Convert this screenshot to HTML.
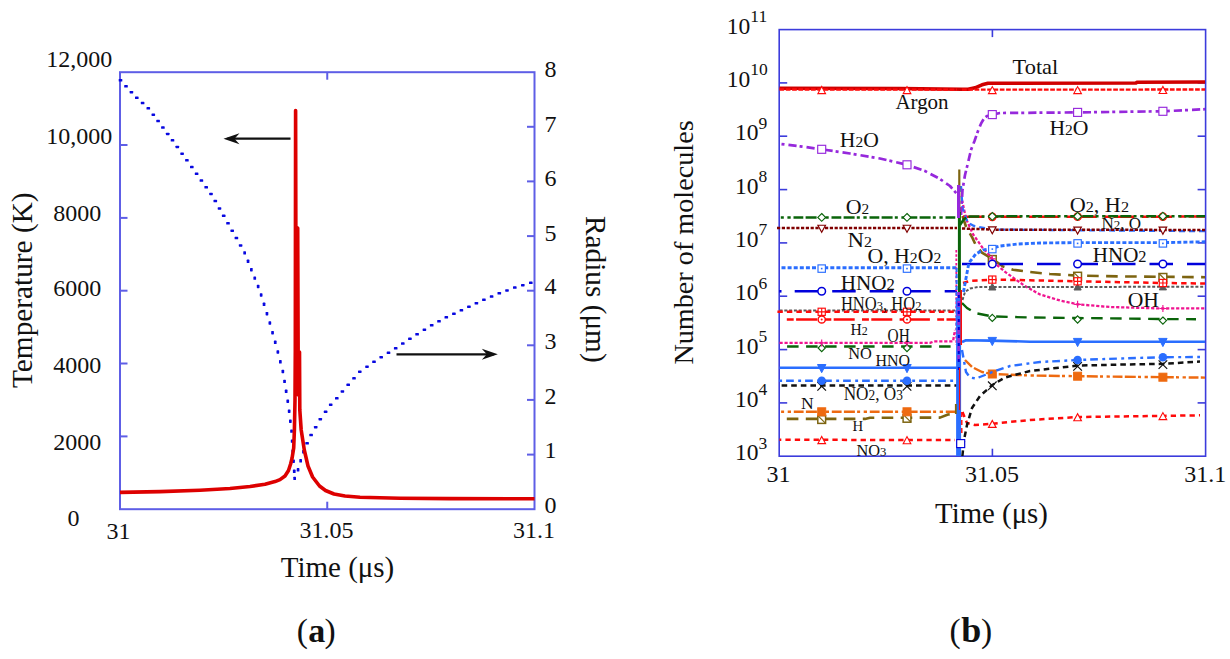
<!DOCTYPE html>
<html><head><meta charset="utf-8"><style>
html,body{margin:0;padding:0;background:#fff;}
body{width:1230px;height:659px;overflow:hidden;}
svg{display:block;}
text{font-family:"Liberation Serif", serif;fill:#111;}
</style></head><body>
<svg width="1230" height="659" viewBox="0 0 1230 659">
<rect x="120.0" y="72.2" width="414.5" height="437.0" fill="none" stroke="#5e5ee6" stroke-width="2"/>
<line x1="120.0" y1="436.4" x2="127.5" y2="436.4" stroke="#5e5ee6" stroke-width="2"/>
<line x1="120.0" y1="363.5" x2="127.5" y2="363.5" stroke="#5e5ee6" stroke-width="2"/>
<line x1="120.0" y1="290.7" x2="127.5" y2="290.7" stroke="#5e5ee6" stroke-width="2"/>
<line x1="120.0" y1="217.9" x2="127.5" y2="217.9" stroke="#5e5ee6" stroke-width="2"/>
<line x1="120.0" y1="145.0" x2="127.5" y2="145.0" stroke="#5e5ee6" stroke-width="2"/>
<line x1="527.0" y1="454.6" x2="534.5" y2="454.6" stroke="#5e5ee6" stroke-width="2"/>
<line x1="527.0" y1="399.9" x2="534.5" y2="399.9" stroke="#5e5ee6" stroke-width="2"/>
<line x1="527.0" y1="345.3" x2="534.5" y2="345.3" stroke="#5e5ee6" stroke-width="2"/>
<line x1="527.0" y1="290.7" x2="534.5" y2="290.7" stroke="#5e5ee6" stroke-width="2"/>
<line x1="527.0" y1="236.1" x2="534.5" y2="236.1" stroke="#5e5ee6" stroke-width="2"/>
<line x1="527.0" y1="181.4" x2="534.5" y2="181.4" stroke="#5e5ee6" stroke-width="2"/>
<line x1="527.0" y1="126.8" x2="534.5" y2="126.8" stroke="#5e5ee6" stroke-width="2"/>
<line x1="327.25" y1="72.2" x2="327.25" y2="79.7" stroke="#5e5ee6" stroke-width="2"/>
<line x1="327.25" y1="501.7" x2="327.25" y2="509.2" stroke="#5e5ee6" stroke-width="2"/>
<rect x="118.7" y="79.0" width="3.6" height="2.5" rx="0.6" fill="#0808e0"/>
<rect x="124.2" y="85.0" width="3.6" height="2.5" rx="0.6" fill="#0808e0"/>
<rect x="129.6" y="90.9" width="3.6" height="2.5" rx="0.6" fill="#0808e0"/>
<rect x="135.0" y="96.5" width="3.6" height="2.5" rx="0.6" fill="#0808e0"/>
<rect x="140.8" y="101.8" width="3.6" height="2.5" rx="0.6" fill="#0808e0"/>
<rect x="146.5" y="107.1" width="3.6" height="2.5" rx="0.6" fill="#0808e0"/>
<rect x="151.5" y="113.4" width="3.6" height="2.5" rx="0.6" fill="#0808e0"/>
<rect x="156.3" y="119.8" width="3.6" height="2.5" rx="0.6" fill="#0808e0"/>
<rect x="161.1" y="126.3" width="3.6" height="2.5" rx="0.6" fill="#0808e0"/>
<rect x="165.9" y="132.7" width="3.6" height="2.5" rx="0.6" fill="#0808e0"/>
<rect x="170.7" y="139.1" width="3.6" height="2.5" rx="0.6" fill="#0808e0"/>
<rect x="175.5" y="145.7" width="3.6" height="2.5" rx="0.6" fill="#0808e0"/>
<rect x="180.3" y="152.4" width="3.6" height="2.5" rx="0.6" fill="#0808e0"/>
<rect x="185.1" y="159.1" width="3.6" height="2.5" rx="0.6" fill="#0808e0"/>
<rect x="190.0" y="165.8" width="3.6" height="2.5" rx="0.6" fill="#0808e0"/>
<rect x="194.8" y="172.5" width="3.6" height="2.5" rx="0.6" fill="#0808e0"/>
<rect x="199.6" y="179.3" width="3.6" height="2.5" rx="0.6" fill="#0808e0"/>
<rect x="204.4" y="186.0" width="3.6" height="2.5" rx="0.6" fill="#0808e0"/>
<rect x="209.2" y="192.7" width="3.6" height="2.5" rx="0.6" fill="#0808e0"/>
<rect x="213.5" y="199.8" width="3.6" height="2.5" rx="0.6" fill="#0808e0"/>
<rect x="217.7" y="207.2" width="3.6" height="2.5" rx="0.6" fill="#0808e0"/>
<rect x="221.9" y="214.6" width="3.6" height="2.5" rx="0.6" fill="#0808e0"/>
<rect x="226.2" y="222.0" width="3.6" height="2.5" rx="0.6" fill="#0808e0"/>
<rect x="230.4" y="229.4" width="3.6" height="2.5" rx="0.6" fill="#0808e0"/>
<rect x="234.6" y="236.8" width="3.6" height="2.5" rx="0.6" fill="#0808e0"/>
<rect x="238.8" y="244.2" width="3.6" height="2.5" rx="0.6" fill="#0808e0"/>
<rect x="243.3" y="251.2" width="2.7" height="3.4" rx="0.6" fill="#0808e0"/>
<rect x="246.7" y="259.6" width="2.7" height="3.4" rx="0.6" fill="#0808e0"/>
<rect x="250.0" y="268.0" width="2.7" height="3.4" rx="0.6" fill="#0808e0"/>
<rect x="253.4" y="276.4" width="2.7" height="3.4" rx="0.6" fill="#0808e0"/>
<rect x="256.8" y="284.8" width="2.7" height="3.4" rx="0.6" fill="#0808e0"/>
<rect x="259.8" y="293.3" width="2.7" height="3.4" rx="0.6" fill="#0808e0"/>
<rect x="262.7" y="302.6" width="2.7" height="3.4" rx="0.6" fill="#0808e0"/>
<rect x="265.6" y="312.0" width="2.7" height="3.4" rx="0.6" fill="#0808e0"/>
<rect x="268.5" y="321.3" width="2.7" height="3.4" rx="0.6" fill="#0808e0"/>
<rect x="271.2" y="331.0" width="2.7" height="3.4" rx="0.6" fill="#0808e0"/>
<rect x="273.9" y="340.6" width="2.7" height="3.4" rx="0.6" fill="#0808e0"/>
<rect x="276.5" y="350.3" width="2.7" height="3.4" rx="0.6" fill="#0808e0"/>
<rect x="279.0" y="360.1" width="2.7" height="3.4" rx="0.6" fill="#0808e0"/>
<rect x="281.5" y="369.8" width="2.7" height="3.4" rx="0.6" fill="#0808e0"/>
<rect x="283.2" y="379.7" width="2.7" height="3.4" rx="0.6" fill="#0808e0"/>
<rect x="284.8" y="389.6" width="2.7" height="3.4" rx="0.6" fill="#0808e0"/>
<rect x="286.4" y="399.5" width="2.7" height="3.4" rx="0.6" fill="#0808e0"/>
<rect x="287.8" y="409.5" width="2.7" height="3.4" rx="0.6" fill="#0808e0"/>
<rect x="289.0" y="419.5" width="2.7" height="3.4" rx="0.6" fill="#0808e0"/>
<rect x="290.2" y="429.4" width="2.7" height="3.4" rx="0.6" fill="#0808e0"/>
<rect x="290.8" y="439.4" width="2.7" height="3.4" rx="0.6" fill="#0808e0"/>
<rect x="291.4" y="449.5" width="2.7" height="3.4" rx="0.6" fill="#0808e0"/>
<rect x="292.2" y="459.5" width="2.7" height="3.4" rx="0.6" fill="#0808e0"/>
<rect x="292.9" y="469.6" width="2.7" height="3.4" rx="0.6" fill="#0808e0"/>
<rect x="293.3" y="476.7" width="2.7" height="3.4" rx="0.6" fill="#0808e0"/>
<rect x="296.7" y="468.1" width="2.7" height="3.4" rx="0.6" fill="#0808e0"/>
<rect x="299.3" y="459.1" width="2.7" height="3.4" rx="0.6" fill="#0808e0"/>
<rect x="302.1" y="450.1" width="2.7" height="3.4" rx="0.6" fill="#0808e0"/>
<rect x="305.3" y="442.1" width="3.6" height="2.5" rx="0.6" fill="#0808e0"/>
<rect x="309.3" y="433.8" width="3.6" height="2.5" rx="0.6" fill="#0808e0"/>
<rect x="313.9" y="425.9" width="3.6" height="2.5" rx="0.6" fill="#0808e0"/>
<rect x="318.5" y="417.9" width="3.6" height="2.5" rx="0.6" fill="#0808e0"/>
<rect x="323.8" y="410.6" width="3.6" height="2.5" rx="0.6" fill="#0808e0"/>
<rect x="328.9" y="403.4" width="3.6" height="2.5" rx="0.6" fill="#0808e0"/>
<rect x="335.0" y="397.1" width="3.6" height="2.5" rx="0.6" fill="#0808e0"/>
<rect x="340.6" y="390.2" width="3.6" height="2.5" rx="0.6" fill="#0808e0"/>
<rect x="346.4" y="383.6" width="3.6" height="2.5" rx="0.6" fill="#0808e0"/>
<rect x="352.2" y="377.1" width="3.6" height="2.5" rx="0.6" fill="#0808e0"/>
<rect x="358.0" y="370.4" width="3.6" height="2.5" rx="0.6" fill="#0808e0"/>
<rect x="365.2" y="365.4" width="3.6" height="2.5" rx="0.6" fill="#0808e0"/>
<rect x="372.2" y="360.5" width="3.6" height="2.5" rx="0.6" fill="#0808e0"/>
<rect x="379.4" y="355.9" width="3.6" height="2.5" rx="0.6" fill="#0808e0"/>
<rect x="386.7" y="351.5" width="3.6" height="2.5" rx="0.6" fill="#0808e0"/>
<rect x="393.9" y="347.1" width="3.6" height="2.5" rx="0.6" fill="#0808e0"/>
<rect x="401.0" y="342.3" width="3.6" height="2.5" rx="0.6" fill="#0808e0"/>
<rect x="408.1" y="337.6" width="3.6" height="2.5" rx="0.6" fill="#0808e0"/>
<rect x="415.3" y="333.0" width="3.6" height="2.5" rx="0.6" fill="#0808e0"/>
<rect x="422.6" y="328.4" width="3.6" height="2.5" rx="0.6" fill="#0808e0"/>
<rect x="429.9" y="324.0" width="3.6" height="2.5" rx="0.6" fill="#0808e0"/>
<rect x="437.2" y="320.0" width="3.6" height="2.5" rx="0.6" fill="#0808e0"/>
<rect x="444.5" y="316.1" width="3.6" height="2.5" rx="0.6" fill="#0808e0"/>
<rect x="452.1" y="312.6" width="3.6" height="2.5" rx="0.6" fill="#0808e0"/>
<rect x="459.6" y="309.1" width="3.6" height="2.5" rx="0.6" fill="#0808e0"/>
<rect x="467.1" y="305.6" width="3.6" height="2.5" rx="0.6" fill="#0808e0"/>
<rect x="474.6" y="302.0" width="3.6" height="2.5" rx="0.6" fill="#0808e0"/>
<rect x="482.1" y="298.5" width="3.6" height="2.5" rx="0.6" fill="#0808e0"/>
<rect x="489.8" y="295.3" width="3.6" height="2.5" rx="0.6" fill="#0808e0"/>
<rect x="497.5" y="292.0" width="3.6" height="2.5" rx="0.6" fill="#0808e0"/>
<rect x="505.2" y="289.2" width="3.6" height="2.5" rx="0.6" fill="#0808e0"/>
<rect x="513.0" y="286.3" width="3.6" height="2.5" rx="0.6" fill="#0808e0"/>
<rect x="521.0" y="283.9" width="3.6" height="2.5" rx="0.6" fill="#0808e0"/>
<rect x="529.0" y="281.5" width="3.6" height="2.5" rx="0.6" fill="#0808e0"/>
<polyline points="120.0,492.4 160.0,491.6 200.0,490.2 230.0,488.5 250.0,486.5 265.0,484.3 275.0,481.6 280.0,479.6 285.0,476.0 288.5,470.5 290.6,464.0 292.1,458.0 293.7,448.0 294.4,430.0 295.0,400.0 295.3,350.0 295.6,110.6 296.0,300.0 296.5,350.0 297.7,228.0 298.3,395.0 299.5,352.0 299.8,410.0 301.2,430.0 304.3,450.0 308.0,466.0 312.6,477.0 319.5,486.0 325.5,490.5 334.0,494.0 345.0,496.0 360.0,497.2 400.0,498.2 450.0,498.6 534.5,498.8" fill="none" stroke="#dd0000" stroke-width="3.6" stroke-linejoin="round"/>
<line x1="290.5" y1="138.7" x2="227.5" y2="138.7" stroke="#111" stroke-width="2.2"/>
<path d="M223.5,138.7 L239.5,133.2 L234.5,138.7 L239.5,144.2 Z" fill="#111"/>
<line x1="396.5" y1="354.3" x2="493.8" y2="354.3" stroke="#111" stroke-width="2.2"/>
<path d="M497.8,354.3 L481.8,348.8 L486.8,354.3 L481.8,359.8 Z" fill="#111"/>
<text x="112.30000000000001" y="67.3" font-size="24" text-anchor="end" >12,000</text>
<text x="112.30000000000001" y="143.8" font-size="24" text-anchor="end" >10,000</text>
<text x="101.3" y="220.6" font-size="24" text-anchor="end" >8000</text>
<text x="101.3" y="295.6" font-size="24" text-anchor="end" >6000</text>
<text x="101.3" y="372.8" font-size="24" text-anchor="end" >4000</text>
<text x="101.3" y="450.2" font-size="24" text-anchor="end" >2000</text>
<text x="67.6" y="526" font-size="24" text-anchor="start" >0</text>
<text x="106.5" y="539" font-size="24" text-anchor="start" >31</text>
<text x="299.4" y="538.2" font-size="24" text-anchor="start" >31.05</text>
<text x="512.9" y="537.7" font-size="24" text-anchor="start" >31.1</text>
<text x="544.5" y="513" font-size="24" text-anchor="start" >0</text>
<text x="544.5" y="458" font-size="24" text-anchor="start" >1</text>
<text x="544.5" y="403.5" font-size="24" text-anchor="start" >2</text>
<text x="544.5" y="349" font-size="24" text-anchor="start" >3</text>
<text x="544.5" y="294.2" font-size="24" text-anchor="start" >4</text>
<text x="544.5" y="240.8" font-size="24" text-anchor="start" >5</text>
<text x="544.5" y="186" font-size="24" text-anchor="start" >6</text>
<text x="544.5" y="131.5" font-size="24" text-anchor="start" >7</text>
<text x="544.5" y="76.5" font-size="24" text-anchor="start" >8</text>
<text transform="translate(31.9,290.2) rotate(-90)" font-size="29.3" text-anchor="middle">Temperature (K)</text>
<text transform="translate(585.9,289.3) rotate(90)" font-size="29.3" text-anchor="middle">Radius (μm)</text>
<text x="337.5" y="576.9" font-size="29" text-anchor="middle" >Time (μs)</text>
<text y="642.2" font-size="33.5"><tspan x="296.8">(</tspan><tspan x="308.2" font-weight="bold" font-size="34">a</tspan><tspan x="324.6">)</tspan></text>
<rect x="779.2" y="29.6" width="426.39999999999986" height="426.59999999999997" fill="none" stroke="#3c3cdc" stroke-width="1.6"/>
<line x1="779.2" y1="402.9" x2="787.2" y2="402.9" stroke="#3c3cdc" stroke-width="1.6"/>
<line x1="1197.6" y1="402.9" x2="1205.6" y2="402.9" stroke="#3c3cdc" stroke-width="1.6"/>
<line x1="779.2" y1="349.6" x2="787.2" y2="349.6" stroke="#3c3cdc" stroke-width="1.6"/>
<line x1="1197.6" y1="349.6" x2="1205.6" y2="349.6" stroke="#3c3cdc" stroke-width="1.6"/>
<line x1="779.2" y1="296.2" x2="787.2" y2="296.2" stroke="#3c3cdc" stroke-width="1.6"/>
<line x1="1197.6" y1="296.2" x2="1205.6" y2="296.2" stroke="#3c3cdc" stroke-width="1.6"/>
<line x1="779.2" y1="242.9" x2="787.2" y2="242.9" stroke="#3c3cdc" stroke-width="1.6"/>
<line x1="1197.6" y1="242.9" x2="1205.6" y2="242.9" stroke="#3c3cdc" stroke-width="1.6"/>
<line x1="779.2" y1="189.6" x2="787.2" y2="189.6" stroke="#3c3cdc" stroke-width="1.6"/>
<line x1="1197.6" y1="189.6" x2="1205.6" y2="189.6" stroke="#3c3cdc" stroke-width="1.6"/>
<line x1="779.2" y1="136.2" x2="787.2" y2="136.2" stroke="#3c3cdc" stroke-width="1.6"/>
<line x1="1197.6" y1="136.2" x2="1205.6" y2="136.2" stroke="#3c3cdc" stroke-width="1.6"/>
<line x1="779.2" y1="82.9" x2="787.2" y2="82.9" stroke="#3c3cdc" stroke-width="1.6"/>
<line x1="1197.6" y1="82.9" x2="1205.6" y2="82.9" stroke="#3c3cdc" stroke-width="1.6"/>
<line x1="992.400000000003" y1="29.6" x2="992.400000000003" y2="37.1" stroke="#3c3cdc" stroke-width="1.6"/>
<line x1="992.400000000003" y1="448.7" x2="992.400000000003" y2="456.2" stroke="#3c3cdc" stroke-width="1.6"/>
<text x="734.9" y="460.4" font-size="23.5">10<tspan dy="-11.8" font-size="17.5">3</tspan></text>
<text x="734.9" y="407.1" font-size="23.5">10<tspan dy="-11.8" font-size="17.5">4</tspan></text>
<text x="734.9" y="353.8" font-size="23.5">10<tspan dy="-11.8" font-size="17.5">5</tspan></text>
<text x="734.9" y="300.4" font-size="23.5">10<tspan dy="-11.8" font-size="17.5">6</tspan></text>
<text x="734.9" y="247.1" font-size="23.5">10<tspan dy="-11.8" font-size="17.5">7</tspan></text>
<text x="734.9" y="193.8" font-size="23.5">10<tspan dy="-11.8" font-size="17.5">8</tspan></text>
<text x="734.9" y="140.4" font-size="23.5">10<tspan dy="-11.8" font-size="17.5">9</tspan></text>
<text x="726.8" y="87.1" font-size="23.5">10<tspan dy="-11.8" font-size="17.5">10</tspan></text>
<text x="726.8" y="33.8" font-size="23.5">10<tspan dy="-11.8" font-size="17.5">11</tspan></text>
<text x="766.5" y="481.6" font-size="24" text-anchor="start" >31</text>
<text x="965" y="481.8" font-size="24" text-anchor="start" >31.05</text>
<text x="1184.2" y="481.8" font-size="24" text-anchor="start" >31.1</text>
<text x="991.5" y="522.9" font-size="28.8" text-anchor="middle" >Time (μs)</text>
<text transform="translate(693.2,242.5) rotate(-90)" font-size="28.2" text-anchor="middle">Number of molecules</text>
<text y="642.2" font-size="33.5"><tspan x="949.6">(</tspan><tspan x="961.2" font-weight="bold" font-size="36">b</tspan><tspan x="981.1">)</tspan></text>
<polyline points="779.5,439.8 955.0,440.0" fill="none" stroke="#ff0a0a" stroke-width="2.5" stroke-dasharray="5.3 4.1" stroke-dashoffset="3.5" stroke-linecap="butt" stroke-linejoin="round" />
<polyline points="962.5,412.0 967.0,423.0 975.0,425.0 992.3,423.7 1030.0,420.0 1077.6,417.0 1163.0,415.9 1200.0,415.3" fill="none" stroke="#ff0a0a" stroke-width="2.5" stroke-dasharray="5.3 4.1" stroke-linecap="butt" stroke-linejoin="round" />
<polygon points="817.9,443.6 825.5,443.6 821.7,436.5" fill="#fff" stroke="#ff0a0a" stroke-width="1.15"/>
<polygon points="903.2,443.7 910.8,443.7 907.0,436.6" fill="#fff" stroke="#ff0a0a" stroke-width="1.15"/>
<polygon points="988.5,427.4 996.1,427.4 992.3,420.4" fill="#fff" stroke="#ff0a0a" stroke-width="1.15"/>
<polygon points="1073.8,420.7 1081.4,420.7 1077.6,413.7" fill="#fff" stroke="#ff0a0a" stroke-width="1.15"/>
<polygon points="1159.1,419.6 1166.7,419.6 1162.9,412.6" fill="#fff" stroke="#ff0a0a" stroke-width="1.15"/>
<polyline points="786.8,418.9 865.0,418.9 870.0,417.8 940.0,417.6 948.0,414.5 956.0,414.0" fill="none" stroke="#7d6410" stroke-width="2.6" stroke-dasharray="11.6 7.4" stroke-linecap="butt" stroke-linejoin="round" />
<polyline points="962.5,216.0 966.2,227.3 972.3,237.6 975.8,245.1 981.9,252.6 992.2,258.8 1003.0,266.5 1013.0,269.7 1030.0,272.0 1050.0,274.0 1077.6,275.6 1120.0,276.4 1163.0,276.8 1205.0,277.2" fill="none" stroke="#7d6410" stroke-width="2.6" stroke-dasharray="11.6 7.4" stroke-linecap="butt" stroke-linejoin="round" />
<rect x="817.8" y="415.6" width="7.8" height="7.8" fill="#fff" stroke="#7d6410" stroke-width="1.5"/>
<path d="M817.8,415.6L825.6,423.4" stroke="#7d6410" stroke-width="1.2"/>
<rect x="903.1" y="414.4" width="7.8" height="7.8" fill="#fff" stroke="#7d6410" stroke-width="1.5"/>
<path d="M903.1,414.4L910.9,422.2" stroke="#7d6410" stroke-width="1.2"/>
<rect x="988.4" y="255.6" width="7.8" height="7.8" fill="#fff" stroke="#7d6410" stroke-width="1.5"/>
<path d="M988.4,255.6L996.2,263.4" stroke="#7d6410" stroke-width="1.2"/>
<rect x="1073.7" y="272.3" width="7.8" height="7.8" fill="#fff" stroke="#7d6410" stroke-width="1.5"/>
<path d="M1073.7,272.3L1081.5,280.1" stroke="#7d6410" stroke-width="1.2"/>
<rect x="1159.0" y="273.5" width="7.8" height="7.8" fill="#fff" stroke="#7d6410" stroke-width="1.5"/>
<path d="M1159.0,273.5L1166.8,281.3" stroke="#7d6410" stroke-width="1.2"/>
<polyline points="781.1,411.8 957.0,411.8" fill="none" stroke="#ee6a10" stroke-width="2.4" stroke-dasharray="9.8 2.3 11 2.2 3 3.6 3.3 2.8" stroke-dashoffset="25.3" stroke-linecap="butt" stroke-linejoin="round" />
<polyline points="965.0,360.0 972.0,367.0 982.0,372.0 992.3,374.0 1030.0,375.5 1077.6,376.2 1163.0,377.2 1205.0,377.6" fill="none" stroke="#ee6a10" stroke-width="2.4" stroke-dasharray="9.8 2.3 11 2.2 3 3.6 3.3 2.8" stroke-linecap="butt" stroke-linejoin="round" />
<rect x="817.7" y="407.8" width="8.0" height="8.0" fill="#ee6a10" stroke="#ee6a10" stroke-width="1"/>
<rect x="903.0" y="407.8" width="8.0" height="8.0" fill="#ee6a10" stroke="#ee6a10" stroke-width="1"/>
<rect x="988.3" y="370.0" width="8.0" height="8.0" fill="#ee6a10" stroke="#ee6a10" stroke-width="1"/>
<rect x="1073.6" y="372.2" width="8.0" height="8.0" fill="#ee6a10" stroke="#ee6a10" stroke-width="1"/>
<rect x="1158.9" y="373.2" width="8.0" height="8.0" fill="#ee6a10" stroke="#ee6a10" stroke-width="1"/>
<polyline points="779.5,385.5 957.0,385.5" fill="none" stroke="#111111" stroke-width="2.5" stroke-dasharray="5.6 4" stroke-dashoffset="7.5" stroke-linecap="butt" stroke-linejoin="round" />
<polyline points="962.4,456.0 964.0,440.0 967.0,425.0 972.0,408.0 980.0,396.0 992.3,385.0 1005.0,377.5 1030.0,371.0 1077.6,365.6 1120.0,364.6 1163.0,363.8 1200.0,361.6" fill="none" stroke="#111111" stroke-width="2.5" stroke-dasharray="5.6 4" stroke-linecap="butt" stroke-linejoin="round" />
<path d="M817.4,382.0L826.0,390.6M826.0,382.0L817.4,390.6" stroke="#111111" stroke-width="1.2"/>
<path d="M902.7,382.0L911.3,390.6M911.3,382.0L902.7,390.6" stroke="#111111" stroke-width="1.2"/>
<path d="M988.0,381.5L996.6,390.1M996.6,381.5L988.0,390.1" stroke="#111111" stroke-width="1.2"/>
<path d="M1073.3,362.1L1081.9,370.7M1081.9,362.1L1073.3,370.7" stroke="#111111" stroke-width="1.2"/>
<path d="M1158.6,360.3L1167.2,368.9M1167.2,360.3L1158.6,368.9" stroke="#111111" stroke-width="1.2"/>
<polyline points="779.2,380.8 957.0,380.8" fill="none" stroke="#2a6eff" stroke-width="2.4" stroke-dasharray="7.7 4.4 2.9 4" stroke-dashoffset="12.1" stroke-linecap="butt" stroke-linejoin="round" />
<polyline points="962.0,350.0 966.0,372.0 970.0,377.5 976.0,378.5 985.0,375.0 992.3,372.0 1010.0,366.0 1040.0,362.0 1077.6,360.0 1120.0,358.5 1163.0,357.2 1200.0,357.0" fill="none" stroke="#2a6eff" stroke-width="2.4" stroke-dasharray="7.7 4.4 2.9 4" stroke-linecap="butt" stroke-linejoin="round" />
<circle cx="821.7" cy="380.8" r="4.3" fill="#2a6eff"/>
<circle cx="907.0" cy="380.8" r="4.3" fill="#2a6eff"/>
<circle cx="1077.6" cy="360.0" r="4.3" fill="#2a6eff"/>
<circle cx="1162.9" cy="357.2" r="4.3" fill="#2a6eff"/>
<polyline points="779.5,367.8 957.0,367.8" fill="none" stroke="#2a6eff" stroke-width="2.6" stroke-linecap="butt" stroke-linejoin="round" />
<polyline points="962.0,342.0 966.0,340.2 990.0,340.6 1030.0,341.7 1205.0,341.7" fill="none" stroke="#2a6eff" stroke-width="2.6" stroke-linecap="butt" stroke-linejoin="round" />
<polygon points="817.5,364.5 825.9,364.5 821.7,372.7" fill="#2a6eff" stroke="#2a6eff" stroke-width="1"/>
<polygon points="902.8,364.5 911.2,364.5 907.0,372.7" fill="#2a6eff" stroke="#2a6eff" stroke-width="1"/>
<polygon points="988.1,337.4 996.5,337.4 992.3,345.6" fill="#2a6eff" stroke="#2a6eff" stroke-width="1"/>
<polygon points="1073.4,338.4 1081.8,338.4 1077.6,346.6" fill="#2a6eff" stroke="#2a6eff" stroke-width="1"/>
<polygon points="1158.7,338.4 1167.1,338.4 1162.9,346.6" fill="#2a6eff" stroke="#2a6eff" stroke-width="1"/>
<polyline points="787.1,346.5 957.0,346.5" fill="none" stroke="#0a640a" stroke-width="2.4" stroke-dasharray="11.5 7.5" stroke-linecap="butt" stroke-linejoin="round" />
<polyline points="962.0,303.0 967.0,308.0 975.0,313.0 992.3,316.4 1030.0,317.5 1077.6,318.0 1163.0,319.1 1196.0,319.2" fill="none" stroke="#0a640a" stroke-width="2.4" stroke-dasharray="11.5 7.5" stroke-linecap="butt" stroke-linejoin="round" />
<polygon points="821.7,344.4 825.3,348.0 821.7,351.6 818.1,348.0" fill="#fff" stroke="#0a640a" stroke-width="1.15"/>
<polygon points="907.0,344.4 910.6,348.0 907.0,351.6 903.4,348.0" fill="#fff" stroke="#0a640a" stroke-width="1.15"/>
<polygon points="992.3,314.3 995.9,317.9 992.3,321.5 988.7,317.9" fill="#fff" stroke="#0a640a" stroke-width="1.15"/>
<polygon points="1077.6,315.9 1081.2,319.5 1077.6,323.1 1074.0,319.5" fill="#fff" stroke="#0a640a" stroke-width="1.15"/>
<polygon points="1162.9,317.0 1166.5,320.6 1162.9,324.2 1159.3,320.6" fill="#fff" stroke="#0a640a" stroke-width="1.15"/>
<polyline points="779.5,342.9 930.0,342.9 934.0,341.4 953.0,341.4 955.0,330.0" fill="none" stroke="#f01490" stroke-width="2.3" stroke-dasharray="3.2 1.8" stroke-linecap="butt" stroke-linejoin="round" />
<polyline points="962.0,200.0 966.2,219.1 973.0,234.2 982.6,247.8 990.1,256.0 997.6,265.6 1005.8,272.4 1015.4,279.3 1025.0,286.0 1040.0,294.5 1060.0,300.5 1077.6,304.3 1110.0,307.0 1163.0,308.5 1205.0,308.3" fill="none" stroke="#f01490" stroke-width="2.3" stroke-dasharray="3.2 1.8" stroke-linecap="butt" stroke-linejoin="round" />
<path d="M818.2,342.9H825.2M821.7,339.4V346.4" stroke="#f01490" stroke-width="1.15"/>
<path d="M903.5,342.9H910.5M907.0,339.4V346.4" stroke="#f01490" stroke-width="1.15"/>
<path d="M988.8,258.8H995.8M992.3,255.3V262.3" stroke="#f01490" stroke-width="1.15"/>
<path d="M1074.1,304.3H1081.1M1077.6,300.8V307.8" stroke="#f01490" stroke-width="1.15"/>
<path d="M1159.4,308.5H1166.4M1162.9,305.0V312.0" stroke="#f01490" stroke-width="1.15"/>
<polyline points="786.8,319.5 957.0,319.5" fill="none" stroke="#ff0a0a" stroke-width="2.5" stroke-dasharray="21 7.3 6.9 2.4" stroke-dashoffset="28.3" stroke-linecap="butt" stroke-linejoin="round" />
<polyline points="963.0,216.8 1205.0,216.6" fill="none" stroke="#ff0a0a" stroke-width="2.5" stroke-dasharray="21 7.3 6.9 2.4" stroke-linecap="butt" stroke-linejoin="round" />
<circle cx="821.7" cy="319.5" r="3.6" fill="#fff" stroke="#ff0a0a" stroke-width="1.5"/>
<circle cx="821.7" cy="319.5" r="1" fill="#ff0a0a"/>
<circle cx="907.0" cy="319.5" r="3.6" fill="#fff" stroke="#ff0a0a" stroke-width="1.5"/>
<circle cx="907.0" cy="319.5" r="1" fill="#ff0a0a"/>
<circle cx="992.3" cy="216.8" r="3.6" fill="#fff" stroke="#ff0a0a" stroke-width="1.5"/>
<circle cx="992.3" cy="216.8" r="1" fill="#ff0a0a"/>
<circle cx="1077.6" cy="216.7" r="3.6" fill="#fff" stroke="#ff0a0a" stroke-width="1.5"/>
<circle cx="1077.6" cy="216.7" r="1" fill="#ff0a0a"/>
<circle cx="1162.9" cy="216.6" r="3.6" fill="#fff" stroke="#ff0a0a" stroke-width="1.5"/>
<circle cx="1162.9" cy="216.6" r="1" fill="#ff0a0a"/>
<polyline points="779.5,310.4 957.0,310.4" fill="none" stroke="#5a5a5a" stroke-width="2.0" stroke-dasharray="3 1.8" stroke-linecap="butt" stroke-linejoin="round" />
<polyline points="962.5,300.0 965.0,292.0 970.0,288.5 978.0,287.0 1205.0,286.8" fill="none" stroke="#5a5a5a" stroke-width="2.0" stroke-dasharray="3 1.8" stroke-linecap="butt" stroke-linejoin="round" />
<polygon points="988.7,290.0 995.9,290.0 992.3,283.4" fill="#5a5a5a" stroke="#5a5a5a" stroke-width="1"/>
<polygon points="1074.0,290.0 1081.2,290.0 1077.6,283.3" fill="#5a5a5a" stroke="#5a5a5a" stroke-width="1"/>
<polygon points="1159.3,289.9 1166.5,289.9 1162.9,283.2" fill="#5a5a5a" stroke="#5a5a5a" stroke-width="1"/>
<polyline points="777.4,311.8 957.0,311.8" fill="none" stroke="#ff0a0a" stroke-width="2.5" stroke-dasharray="5.4 4.1" stroke-linecap="butt" stroke-linejoin="round" />
<polyline points="963.0,283.0 970.0,281.0 992.3,279.6 1030.0,280.3 1077.6,281.3 1163.0,283.0 1205.0,283.5" fill="none" stroke="#ff0a0a" stroke-width="2.5" stroke-dasharray="5.4 4.1" stroke-linecap="butt" stroke-linejoin="round" />
<rect x="818.1" y="308.2" width="7.2" height="7.2" fill="#fff" stroke="#ff0a0a" stroke-width="1.15"/>
<path d="M818.1,311.8H825.3M821.7,308.2V315.4" stroke="#ff0a0a" stroke-width="1.15"/>
<rect x="903.4" y="308.2" width="7.2" height="7.2" fill="#fff" stroke="#ff0a0a" stroke-width="1.15"/>
<path d="M903.4,311.8H910.6M907.0,308.2V315.4" stroke="#ff0a0a" stroke-width="1.15"/>
<rect x="988.7" y="276.0" width="7.2" height="7.2" fill="#fff" stroke="#ff0a0a" stroke-width="1.15"/>
<path d="M988.7,279.6H995.9M992.3,276.0V283.2" stroke="#ff0a0a" stroke-width="1.15"/>
<rect x="1074.0" y="277.7" width="7.2" height="7.2" fill="#fff" stroke="#ff0a0a" stroke-width="1.15"/>
<path d="M1074.0,281.3H1081.2M1077.6,277.7V284.9" stroke="#ff0a0a" stroke-width="1.15"/>
<rect x="1159.3" y="279.4" width="7.2" height="7.2" fill="#fff" stroke="#ff0a0a" stroke-width="1.15"/>
<path d="M1159.3,283.0H1166.5M1162.9,279.4V286.6" stroke="#ff0a0a" stroke-width="1.15"/>
<polyline points="779.2,291.3 781.5,291.3" fill="none" stroke="#0000dc" stroke-width="2.6" stroke-linecap="butt" stroke-linejoin="round" />
<polyline points="780.7,291.3 957.0,291.3" fill="none" stroke="#0000dc" stroke-width="2.6" stroke-dasharray="23.5 14" stroke-dashoffset="23.5" stroke-linecap="butt" stroke-linejoin="round" />
<polyline points="962.0,264.0 1205.0,264.0" fill="none" stroke="#0000dc" stroke-width="2.6" stroke-dasharray="23.5 14" stroke-linecap="butt" stroke-linejoin="round" />
<circle cx="821.7" cy="291.3" r="3.8" fill="#fff" stroke="#0000dc" stroke-width="1.5"/>
<circle cx="907.0" cy="291.3" r="3.8" fill="#fff" stroke="#0000dc" stroke-width="1.5"/>
<circle cx="992.3" cy="264.0" r="3.8" fill="#fff" stroke="#0000dc" stroke-width="1.5"/>
<circle cx="1077.6" cy="264.0" r="3.8" fill="#fff" stroke="#0000dc" stroke-width="1.5"/>
<circle cx="1162.9" cy="264.0" r="3.8" fill="#fff" stroke="#0000dc" stroke-width="1.5"/>
<polyline points="779.5,267.8 957.0,267.8" fill="none" stroke="#2a6eff" stroke-width="2.9" stroke-dasharray="4 2.1" stroke-dashoffset="-2" stroke-linecap="butt" stroke-linejoin="round" />
<polyline points="963.5,292.0 964.8,284.7 968.9,262.9 975.8,254.0 983.3,249.9 992.3,248.3 1000.0,246.0 1018.0,244.0 1040.0,243.0 1077.6,242.6 1163.0,242.6 1205.0,241.8" fill="none" stroke="#2a6eff" stroke-width="2.9" stroke-dasharray="4 2.1" stroke-linecap="butt" stroke-linejoin="round" />
<rect x="818.0" y="264.9" width="7.4" height="7.4" fill="#fff" stroke="#2a6eff" stroke-width="1.15"/>
<rect x="820.9" y="267.8" width="1.6" height="1.6" fill="#2a6eff"/>
<rect x="903.3" y="264.9" width="7.4" height="7.4" fill="#fff" stroke="#2a6eff" stroke-width="1.15"/>
<rect x="906.2" y="267.8" width="1.6" height="1.6" fill="#2a6eff"/>
<rect x="988.6" y="245.4" width="7.4" height="7.4" fill="#fff" stroke="#2a6eff" stroke-width="1.15"/>
<rect x="991.5" y="248.3" width="1.6" height="1.6" fill="#2a6eff"/>
<rect x="1073.9" y="239.7" width="7.4" height="7.4" fill="#fff" stroke="#2a6eff" stroke-width="1.15"/>
<rect x="1076.8" y="242.6" width="1.6" height="1.6" fill="#2a6eff"/>
<rect x="1159.2" y="239.7" width="7.4" height="7.4" fill="#fff" stroke="#2a6eff" stroke-width="1.15"/>
<rect x="1162.1" y="242.6" width="1.6" height="1.6" fill="#2a6eff"/>
<polyline points="961.0,186.0 962.5,208.0 967.6,222.5 974.0,226.0 985.0,228.2 992.0,229.0 1000.0,229.6 1100.0,230.4 1205.0,231.2" fill="none" stroke="#2a6eff" stroke-width="2.3" stroke-dasharray="6 4" stroke-linecap="butt" stroke-linejoin="round" />
<polyline points="777.0,227.9 957.0,227.9" fill="none" stroke="#800000" stroke-width="2.5" stroke-dasharray="3.2 1.6" stroke-linecap="butt" stroke-linejoin="round" />
<polyline points="962.0,228.5 1000.0,229.8 1205.0,229.9" fill="none" stroke="#800000" stroke-width="2.5" stroke-dasharray="3.2 1.6" stroke-linecap="butt" stroke-linejoin="round" />
<polygon points="817.9,225.2 825.5,225.2 821.7,232.2" fill="#fff" stroke="#800000" stroke-width="1.15"/>
<polygon points="903.2,225.2 910.8,225.2 907.0,232.2" fill="#fff" stroke="#800000" stroke-width="1.15"/>
<polygon points="988.5,226.8 996.1,226.8 992.3,233.8" fill="#fff" stroke="#800000" stroke-width="1.15"/>
<polygon points="1073.8,227.1 1081.4,227.1 1077.6,234.1" fill="#fff" stroke="#800000" stroke-width="1.15"/>
<polygon points="1159.1,227.1 1166.7,227.1 1162.9,234.2" fill="#fff" stroke="#800000" stroke-width="1.15"/>
<polyline points="780.8,217.4 957.0,217.4" fill="none" stroke="#0a640a" stroke-width="2.5" stroke-dasharray="9.8 2.3 11 2.2 3 3.6 3.3 2.8" stroke-dashoffset="25.3" stroke-linecap="butt" stroke-linejoin="round" />
<polyline points="960.0,225.0 964.0,219.0 970.0,216.4 1205.0,216.2" fill="none" stroke="#0a640a" stroke-width="2.5" stroke-dasharray="9.8 2.3 11 2.2 3 3.6 3.3 2.8" stroke-linecap="butt" stroke-linejoin="round" />
<polygon points="821.7,213.5 825.6,217.4 821.7,221.3 817.8,217.4" fill="#fff" stroke="#0a640a" stroke-width="1.15"/>
<polygon points="907.0,213.5 910.9,217.4 907.0,221.3 903.1,217.4" fill="#fff" stroke="#0a640a" stroke-width="1.15"/>
<polygon points="992.3,212.5 996.2,216.4 992.3,220.3 988.4,216.4" fill="#fff" stroke="#0a640a" stroke-width="1.15"/>
<polygon points="1077.6,212.4 1081.5,216.3 1077.6,220.2 1073.7,216.3" fill="#fff" stroke="#0a640a" stroke-width="1.15"/>
<polygon points="1162.9,212.3 1166.8,216.2 1162.9,220.1 1159.0,216.2" fill="#fff" stroke="#0a640a" stroke-width="1.15"/>
<polyline points="780.8,144.0 800.0,146.3 821.7,149.3 850.0,153.5 880.0,158.5 907.0,164.8 925.0,171.0 940.0,179.0 950.0,186.0 957.0,194.0" fill="none" stroke="#9628dc" stroke-width="2.7" stroke-dasharray="8.2 3 3 4" stroke-dashoffset="10.5" stroke-linecap="butt" stroke-linejoin="round" />
<polyline points="961.0,215.0 962.5,190.0 965.0,175.0 968.2,162.0 971.0,150.0 974.6,140.7 978.0,131.0 981.0,123.7 984.0,118.5 987.0,116.0 992.3,114.6 1000.0,113.0 1077.6,112.4 1163.0,111.3 1205.0,109.2" fill="none" stroke="#9628dc" stroke-width="2.7" stroke-dasharray="8.2 3 3 4" stroke-linecap="butt" stroke-linejoin="round" />
<rect x="817.7" y="145.3" width="8.0" height="8.0" fill="#fff" stroke="#9628dc" stroke-width="1.15"/>
<rect x="903.0" y="160.8" width="8.0" height="8.0" fill="#fff" stroke="#9628dc" stroke-width="1.15"/>
<rect x="988.3" y="110.6" width="8.0" height="8.0" fill="#fff" stroke="#9628dc" stroke-width="1.15"/>
<rect x="1073.6" y="108.4" width="8.0" height="8.0" fill="#fff" stroke="#9628dc" stroke-width="1.15"/>
<rect x="1158.9" y="107.3" width="8.0" height="8.0" fill="#fff" stroke="#9628dc" stroke-width="1.15"/>
<line x1="956.3" y1="250" x2="956.3" y2="345" stroke="#f01490" stroke-width="1.8" stroke-dasharray="2.5 1.8"/>
<line x1="956.6" y1="268" x2="956.6" y2="330" stroke="#2a6eff" stroke-width="2" stroke-dasharray="4 2"/>
<line x1="959.4" y1="212" x2="959.4" y2="300" stroke="#0a640a" stroke-width="3"/>
<line x1="959.3" y1="169.5" x2="959.3" y2="212" stroke="#7d6410" stroke-width="2.2"/>
<line x1="958.6" y1="298" x2="958.6" y2="456" stroke="#2a6eff" stroke-width="5"/>
<line x1="958.5" y1="185" x2="958.5" y2="218" stroke="#9628dc" stroke-width="3"/>
<line x1="958.6" y1="292" x2="958.6" y2="362" stroke="#9628dc" stroke-width="2.6" stroke-dasharray="6 3"/>
<line x1="958.8" y1="295" x2="958.8" y2="375" stroke="#0000dc" stroke-width="2" stroke-dasharray="3 5"/>
<line x1="961.2" y1="290" x2="961.2" y2="345" stroke="#ff0a0a" stroke-width="1.6"/>
<line x1="959.6" y1="368" x2="959.6" y2="410" stroke="#ff0a0a" stroke-width="1.3"/>
<line x1="961.8" y1="412" x2="961.8" y2="436" stroke="#ff0a0a" stroke-width="1.4" stroke-dasharray="5 3"/>
<line x1="955.8" y1="404" x2="955.8" y2="414" stroke="#7d6410" stroke-width="1.8"/>
<rect x="956.7" y="439.6" width="8.0" height="8.0" fill="#fff" stroke="#0000dc" stroke-width="1.15"/>
<polyline points="779.5,88.3 900.0,88.6 962.0,89.3 968.0,89.2 975.0,87.8 982.0,84.8 988.0,83.2 1136.0,83.0 1137.0,82.3 1205.0,82.1" fill="none" stroke="#d00000" stroke-width="3.5" stroke-linecap="butt" stroke-linejoin="round" />
<polyline points="779.5,89.5 957.0,89.6" fill="none" stroke="#ff0a0a" stroke-width="2.3" stroke-dasharray="4.7 1.6" stroke-linecap="butt" stroke-linejoin="round" />
<polyline points="962.0,89.6 1205.0,89.5" fill="none" stroke="#ff0a0a" stroke-width="2.3" stroke-dasharray="4.7 1.6" stroke-linecap="butt" stroke-linejoin="round" />
<polygon points="817.9,93.6 825.5,93.6 821.7,86.5" fill="#fff" stroke="#ff0a0a" stroke-width="1.15"/>
<polygon points="903.2,93.6 910.8,93.6 907.0,86.6" fill="#fff" stroke="#ff0a0a" stroke-width="1.15"/>
<polygon points="988.5,93.6 996.1,93.6 992.3,86.6" fill="#fff" stroke="#ff0a0a" stroke-width="1.15"/>
<polygon points="1073.8,93.6 1081.4,93.6 1077.6,86.6" fill="#fff" stroke="#ff0a0a" stroke-width="1.15"/>
<polygon points="1159.1,93.5 1166.7,93.5 1162.9,86.5" fill="#fff" stroke="#ff0a0a" stroke-width="1.15"/>
<text x="1012.6" y="73.9" font-size="21.7" textLength="45.7" lengthAdjust="spacingAndGlyphs">Total</text>
<text x="895.4" y="108.5" font-size="20.7" textLength="53.2" lengthAdjust="spacingAndGlyphs">Argon</text>
<text x="839.8" y="147.1" font-size="21" textLength="39.0" lengthAdjust="spacingAndGlyphs">H<tspan font-size="15">2</tspan>O</text>
<text x="1049.4" y="134.5" font-size="21" textLength="39.1" lengthAdjust="spacingAndGlyphs">H<tspan font-size="15">2</tspan>O</text>
<text x="845.8" y="213.8" font-size="20" textLength="23.5" lengthAdjust="spacingAndGlyphs">O<tspan font-size="14">2</tspan></text>
<text x="847.5" y="246.8" font-size="21.5" textLength="24.4" lengthAdjust="spacingAndGlyphs">N<tspan font-size="15">2</tspan></text>
<text x="867.4" y="263.3" font-size="20.8" textLength="73.9" lengthAdjust="spacingAndGlyphs">O, H<tspan font-size="15">2</tspan>O<tspan font-size="15">2</tspan></text>
<text x="840.8" y="289.7" font-size="21.2" textLength="54.2" lengthAdjust="spacingAndGlyphs">HNO<tspan font-size="16.8">2</tspan></text>
<text x="840.9" y="309.9" font-size="17.9" textLength="80.6" lengthAdjust="spacingAndGlyphs">HNO<tspan font-size="13.5">3</tspan>, HO<tspan font-size="13.5">2</tspan></text>
<text x="850.5" y="334.8" font-size="17" textLength="17.2" lengthAdjust="spacingAndGlyphs">H<tspan font-size="13">2</tspan></text>
<text x="887.6" y="341.8" font-size="18" textLength="22.2" lengthAdjust="spacingAndGlyphs">OH</text>
<text x="848.2" y="359.1" font-size="16.8" textLength="23.6" lengthAdjust="spacingAndGlyphs">NO</text>
<text x="875.5" y="366.4" font-size="16.5" textLength="34.6" lengthAdjust="spacingAndGlyphs">HNO</text>
<text x="843.7" y="400.1" font-size="18" textLength="59.2" lengthAdjust="spacingAndGlyphs">NO<tspan font-size="14">2</tspan>, O<tspan font-size="14">3</tspan></text>
<text x="800.9" y="408.9" font-size="17" textLength="12.7" lengthAdjust="spacingAndGlyphs">N</text>
<text x="852.4" y="430.5" font-size="15.5" textLength="10.7" lengthAdjust="spacingAndGlyphs">H</text>
<text x="856.4" y="455.7" font-size="16.8" textLength="30.0" lengthAdjust="spacingAndGlyphs">NO<tspan font-size="13">3</tspan></text>
<text x="1069.7" y="211.8" font-size="20.5" textLength="59.3" lengthAdjust="spacingAndGlyphs">O<tspan font-size="15">2</tspan>, H<tspan font-size="15">2</tspan></text>
<text x="1101.4" y="228.8" font-size="17" textLength="39.6" lengthAdjust="spacingAndGlyphs">N<tspan font-size="13">2</tspan>, O</text>
<text x="1092.8" y="262.2" font-size="20.5" textLength="53.8" lengthAdjust="spacingAndGlyphs">HNO<tspan font-size="16">2</tspan></text>
<text x="1127.7" y="306.5" font-size="21" textLength="31.3" lengthAdjust="spacingAndGlyphs">OH</text>
</svg>
</body></html>
